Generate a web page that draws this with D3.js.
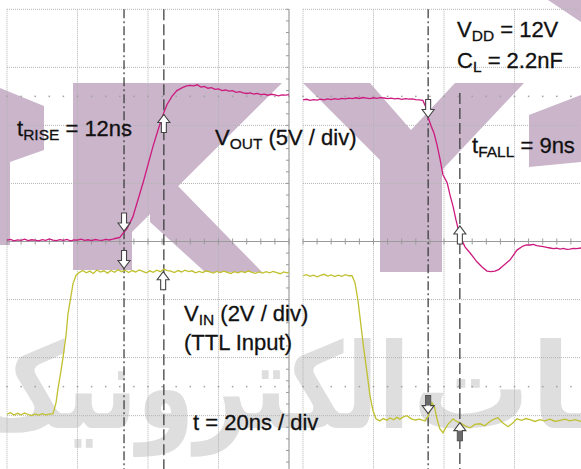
<!DOCTYPE html>
<html><head><meta charset="utf-8">
<script src="https://cdn.jsdelivr.net/npm/d3@7/dist/d3.min.js"></script>
<style>html,body{margin:0;padding:0;background:#fff;overflow:hidden;} svg{display:block;}</style>
</head><body>
<svg id="c" width="581" height="469"></svg>
<script>
// ---------- DATA (time in ns, voltage in V) ----------
// Left capture: rising edge
const voutRise = [
 [0,0.12],[1,0.18],[2,0.06],[3,0.14],[4,0.1],[5,0.2],[6,0.08],[7,0.15],[8,0.12],[9,0.05],[10,0.16],[11,0.1],
 [12,0.22],[13,0.12],[14,0.08],[15,0.16],[16,0.1],[17,0.18],[18,0.06],[19,0.14],[20,0.12],[21,0.2],[22,0.1],
 [23,0.15],[24,0.08],[25,0.17],[26,0.12],[27,0.1],[28,0.18],[29,0.13],[30,0.2],[31,0.28],
 [32,0.35],[33,0.75],[34,1.08],[35.7,2.12],[38.6,5.06],[41.4,8.17],[42.8,9.56],[44.3,10.95],[45.4,11.8],
 [46.8,12.5],[48.2,13.0],[49.9,13.28],[51,13.4],[51.9,13.45],[53,13.4],[54,13.5],[55,13.3],[56,13.35],[57,13.2],
 [58,13.25],[59,13.1],[60,13.15],[61,13.0],[62,13.05],[63,12.95],[64,13.0],[65,12.85],[66,12.9],[67,12.8],
 [68,12.75],[69,12.8],[70,12.7],[71,12.75],[72,12.65],[73,12.7],[74,12.6],[75,12.68],[76,12.62],[77,12.55],
 [78,12.62],[79,12.6],[80,12.65]
];
const vinRise = [
 [0,0.05],[1,0.1],[2,0.02],[3,0.08],[4,0.03],[5,0.09],[6,0.04],[7,0.0],[8,0.06],[9,0.02],[10,0.07],[11,0.03],
 [12,0.05],[13.05,0.07],[13.9,0.44],[14.47,0.93],[15.32,1.55],[15.89,2.0],[16.74,2.76],[17.3,3.51],[18.16,4.13],
 [18.72,4.55],[19.57,4.83],[20.43,4.93],[21.5,5.0],[22.5,4.92],[23.5,4.98],[24.5,4.9],[25.5,5.02],[26.5,4.95],
 [27.5,4.99],[28.5,4.91],[29.5,5.0],[30.5,4.94],[31.5,5.03],[32.5,4.96],[33.5,5.01],[34.5,4.93],[35.5,5.0],
 [36.5,4.95],[37.5,5.02],[38.5,4.97],[39.5,4.92],[40.5,4.99],[41.5,4.94],[42.5,5.01],[43.5,4.96],[44.5,5.05],
 [45.5,5.0],[46.5,4.98],[47.5,4.93],[48.5,5.0],[49.5,4.95],[50.5,5.01],[51.5,4.96],[52.5,4.99],[53.5,4.92],
 [54.5,4.97],[55.5,4.93],[56.5,4.99],[57.5,4.95],[58.5,4.91],[59.5,4.97],[60.5,4.93],[61.5,4.98],[62.5,4.94],
 [63.5,4.9],[64.5,4.96],[65.5,4.92],[66.5,4.97],[67.5,4.93],[68.5,4.99],[69.5,4.94],[70.5,4.9],[71.5,4.95],
 [72.5,4.91],[73.5,4.96],[74.5,4.92],[75.5,4.97],[76.5,4.93],[77.5,4.89],[78.5,4.95],[79.5,4.92],[80,4.95]
];
// Right capture: falling edge
const voutFall = [
 [0,12.2],[1,12.25],[2,12.15],[3,12.22],[4,12.18],[5,12.26],[6,12.2],[7,12.28],[8,12.22],[9,12.3],[10,12.25],
 [11,12.32],[12,12.28],[13,12.35],[14,12.3],[15,12.38],[16,12.32],[17,12.4],[18,12.35],[19,12.3],[20,12.38],
 [21,12.33],[22,12.4],[23,12.36],[24,12.3],[25,12.35],[26,12.28],[27,12.32],[28,12.25],[29,12.3],[30,12.26],
 [31,12.28],[32,12.22],[33,12.2],[34.0,12.15],[34.9,11.55],[35.5,10.68],[36.3,9.99],[37.2,9.3],[38.0,8.35],
 [38.9,7.05],[39.7,5.75],[40.9,5.06],[41.7,4.02],[42.6,2.98],[43.4,1.86],[44.5,0.48],[46.0,-0.48],[47.4,-0.99],
 [49.4,-1.77],[50.8,-2.2],[52.2,-2.55],[53.3,-2.6],[54.5,-2.55],[55.6,-2.4],[56.7,-2.12],[58.7,-1.6],
 [60.7,-0.74],[62.4,-0.39],[63.4,-0.3],[64.4,-0.3],[65.4,-0.25],[66.3,-0.35],[67.2,-0.39],[68.2,-0.45],
 [69.1,-0.5],[70.1,-0.56],[71.0,-0.62],[72.0,-0.58],[72.9,-0.65],[73.9,-0.6],[74.8,-0.68],[75.7,-0.65],
 [76.7,-0.6],[77.6,-0.62],[78.9,-0.56],[80,-0.6]
];
const vinFall = [
 [0,4.82],[1,4.86],[2,4.8],[3,4.84],[4,4.78],[5,4.83],[6,4.87],[7,4.81],[8,4.85],[9,4.79],[10,4.84],[11,4.8],
 [12,4.86],[13,4.82],[13.9,4.82],[14.75,4.58],[15.6,3.96],[16.45,3.1],[17.3,2.24],[18.16,1.48],[19.0,0.69],
 [19.86,0.17],[20.7,-0.11],[21.8,-0.18],[22.8,-0.1],[23.8,-0.16],[24.7,-0.08],[25.7,-0.14],[26.6,-0.06],
 [27.5,-0.12],[28.5,-0.04],[29.5,0.0],[30.6,-0.1],[31.8,-0.15],[33,-0.12],[34.6,-0.18],[35.5,-0.02],
 [36.6,0.44],[37.3,0.3],[38.0,-0.1],[38.8,-0.45],[39.7,-0.59],[40.5,-0.42],[41.1,-0.3],[42.6,-0.11],
 [43.5,-0.2],[44.5,-0.24],[46,-0.35],[47.4,-0.42],[48.8,-0.3],[50.2,-0.28],[51.6,-0.35],[53.0,-0.2],
 [54.2,-0.12],[55.3,-0.07],[56.7,-0.25],[58.2,-0.38],[59.5,-0.25],[60.7,-0.11],[62,-0.16],[63.2,-0.1],
 [64.4,-0.14],[65.8,-0.2],[67.2,-0.14],[68.6,-0.18],[70.1,-0.12],[71.5,-0.2],[72.9,-0.16],[74.3,-0.12],
 [75.7,-0.18],[77.2,-0.14],[78.9,-0.2],[80,-0.16]
];
// cursor times (ns)
const cursorsRise = [33.2, 44.5];
const cursorsFall = [35.5, 44.5];
// measurement arrow tips: time, channel, voltage, direction
const arrowsRise = [
 {t:33.2, ch:"out", v:0.9,  dir:"down"},
 {t:33.2, ch:"in",  v:5.07, dir:"down"},
 {t:44.5, ch:"out", v:10.94,dir:"up"},
 {t:44.3, ch:"in",  v:4.96, dir:"up"}
];
const arrowsFall = [
 {t:35.5, ch:"out", v:10.68,dir:"down"},
 {t:44.5, ch:"out", v:1.34, dir:"up"},
 {t:35.5, ch:"in",  v:0.07, dir:"down", dark:true},
 {t:44.5, ch:"in",  v:-0.24,dir:"up", dark:true}
];
const timeTicks = [0,20,40,60,80];
const divTicks = [-4,-3,-2,-1,0,1,2,3,4];

// ---------- SCALES ----------
const svg = d3.select("#c");
const xL = d3.scaleLinear().domain([0,80]).range([7,289]);
const xR = d3.scaleLinear().domain([0,80]).range([303,585]);
const yDiv = d3.scaleLinear().domain([-4,4]).range([473.7,9.3]);
const yOut = v => yDiv(v/5);          // 5 V/div, ground at centre
const yIn  = v => yDiv(v/2 - 3);       // 2 V/div, ground 3 div below centre
const W = 581, H = 469;

// ---------- WATERMARK (decoration) ----------
const wm = svg.append("g");
const purple = "#cab5cb";
const shapes = [
 [[0,88],[44,106],[44,150],[10,162],[10,245],[0,245]],
 [[73,83],[132,83],[132,270],[73,270]],
 [[132,83],[282,83],[132,232]],
 [[150,200],[178,186],[262,272],[205,272],[150,222]],
 [[303,83],[370,83],[411,130],[455,83],[524,83],[442,170],[442,272],[380,272],[380,160]],
 [[529,115],[581,95],[581,162],[529,167]],
 [[548,0],[581,0],[581,22]]
];
wm.selectAll("polygon").data(shapes).join("polygon")
  .attr("points", d => d.map(p => p.join(",")).join(" "))
  .attr("fill", purple);
wm.append("text").attr("x", 412).attr("y", 428)
  .attr("text-anchor","start")
  .attr("font-family","DejaVu Sans").attr("font-weight","bold").attr("font-size",118)
  .attr("fill","#dedede").text("قطعات");
wm.append("text").attr("x", -30).attr("y", 428)
  .attr("text-anchor","start").attr("textLength", 440).attr("lengthAdjust","spacingAndGlyphs")
  .attr("font-family","DejaVu Sans").attr("font-weight","bold").attr("font-size",118)
  .attr("fill","#dedede").text("الکترونیک");

// ---------- GRID ----------
function panel(x, x0, x1, hasVAxis) {
  const g = svg.append("g");
  g.selectAll("line.v").data(timeTicks).join("line")
    .attr("x1", d => x(d)).attr("x2", d => x(d)).attr("y1", yDiv(4)).attr("y2", H)
    .attr("stroke", "#b4b4b4").attr("stroke-dasharray","1,1");
  g.selectAll("line.h").data(divTicks.filter(d => d !== 0)).join("line")
    .attr("x1", x0).attr("x2", x1).attr("y1", d => yDiv(d)).attr("y2", d => yDiv(d))
    .attr("stroke", "#b4b4b4").attr("stroke-dasharray","1,1");
  g.append("line").attr("x1", x0).attr("x2", x1).attr("y1", yDiv(0)).attr("y2", yDiv(0))
    .attr("stroke","#9a9a9a");
  const minor = d3.range(0, 80.01, 4);
  g.selectAll("line.mt").data(minor).join("line")
    .attr("x1", d => x(d)).attr("x2", d => x(d)).attr("y1", yDiv(0)-3).attr("y2", yDiv(0)+3)
    .attr("stroke","#9a9a9a");
  [2.5, -2.5].forEach(dv => {
    g.selectAll(null).data(minor).join("rect")
      .attr("x", d => x(d)-0.75).attr("y", yDiv(dv)-0.75).attr("width",1.5).attr("height",1.5)
      .attr("fill","#a0a0a0");
  });
  if (hasVAxis) {
    const vm = d3.range(-4, 4.01, 0.2);
    g.append("line").attr("x1", x(80)).attr("x2", x(80)).attr("y1", yDiv(4)).attr("y2", H).attr("stroke","#9a9a9a");
    g.selectAll("line.vt").data(vm).join("line")
      .attr("x1", x(80)-3).attr("x2", x(80)).attr("y1", d => yDiv(d)).attr("y2", d => yDiv(d))
      .attr("stroke","#9a9a9a");
  }
  return g;
}
panel(xL, 7, 289, true);
panel(xR, 303, 581, false);

// ---------- CURSORS ----------
function cursors(x, ts, startDashed) {
  svg.append("line").attr("x1", x(ts[0])).attr("x2", x(ts[0])).attr("y1", yDiv(4)).attr("y2", H)
    .attr("stroke","#333").attr("stroke-width",1.2).attr("stroke-dasharray","9,3,2,3");
  svg.append("line").attr("x1", x(ts[1])).attr("x2", x(ts[1])).attr("y1", startDashed).attr("y2", H)
    .attr("stroke","#333").attr("stroke-width",1.2).attr("stroke-dasharray","11,4");
}
cursors(xL, cursorsRise, yDiv(4));
cursors(xR, cursorsFall, yOut(12.8));

// ---------- TRACES ----------
function trace(x, data, yf, color) {
  svg.append("path").datum(data)
    .attr("d", d3.line().x(d => x(d[0])).y(d => yf(d[1])))
    .attr("fill","none").attr("stroke", color).attr("stroke-width",1.3);
}
const magenta = "#cc1a7e", yellow = "#c0c030";
trace(xL, voutRise, yOut, magenta);
trace(xL, vinRise, yIn, yellow);
trace(xR, voutFall, yOut, magenta);
trace(xR, vinFall, yIn, yellow);

// ---------- ARROWS ----------
function arrow(x, a) {
  const tx = x(a.t), ty = a.ch === "out" ? yOut(a.v) : yIn(a.v);
  const s = a.dir === "down" ? -1 : 1;
  const L = 18, hh = 8, hw = 6, sw = 2.5;
  const pts = [[0,0],[hw,hh],[sw,hh],[sw,L],[-sw,L],[-sw,hh],[-hw,hh]]
    .map(p => [tx + p[0], ty + s*p[1]]);
  svg.append("polygon").attr("points", pts.map(p => p.join(",")).join(" "))
    .attr("fill","#fff").attr("stroke","#444").attr("stroke-width",1.1);
  if (a.dark) {
    const sh = [[sw,hh],[sw,L],[-sw,L],[-sw,hh]].map(p => [tx+p[0], ty+s*p[1]]);
    svg.append("polygon").attr("points", sh.map(p => p.join(",")).join(" ")).attr("fill","#6a6a6a");
  }
}
arrowsRise.forEach(a => arrow(xL, a));
arrowsFall.forEach(a => arrow(xR, a));

// ---------- LABELS ----------
const font = "Liberation Sans, Arial, sans-serif";
function label(x, y, parts) {
  const t = svg.append("text").attr("x", x).attr("y", y)
    .attr("font-family", font).attr("font-size", 22).attr("fill","#111")
    .attr("stroke","#111").attr("stroke-width",0.3);
  let sub = false;
  parts.forEach(p => {
    const isSub = p[1] === "sub";
    const ts = t.append("tspan").text(p[0]);
    if (isSub) { ts.attr("font-size", 15.5).attr("dy", 4); sub = true; }
    else if (sub) { ts.attr("dy", -4); sub = false; }
  });
}
label(17, 136, [["t"],["RISE","sub"],[" = 12ns"]]);
label(215, 145, [["V"],["OUT","sub"],[" (5V / div)"]]);
label(457, 37, [["V"],["DD","sub"],[" = 12V"]]);
label(457, 68, [["C"],["L","sub"],[" = 2.2nF"]]);
label(472, 153, [["t"],["FALL","sub"],[" = 9ns"]]);
label(184, 321, [["V"],["IN","sub"],[" (2V / div)"]]);
label(184, 350, [["(TTL Input)"]]);
label(193, 430, [["t = 20ns / div"]]);
</script>
</body></html>
